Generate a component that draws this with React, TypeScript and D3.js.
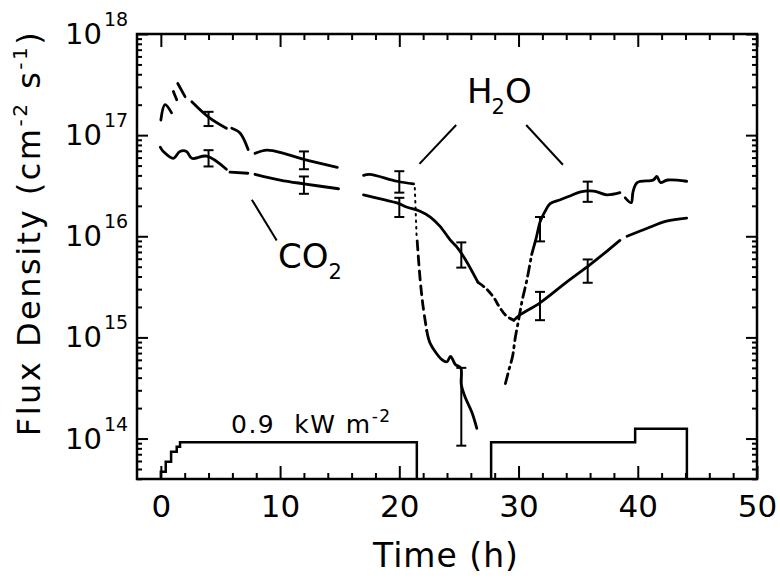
import React, { useEffect, useRef } from 'react';
import * as d3 from 'd3';

type Pt = [number, number];

// time (h) vs flux density (cm^-2 s^-1)
// H2O
const h2oA: Pt[] = [[0.0, 1.41e17], [0.35, 2.0e17], [0.9, 1.66e17]];
const h2oB: Pt[] = [[1.05, 2.7e17], [1.33, 2.24e17]];
const h2oC: Pt[] = [[1.42, 3.24e17], [2.03, 2.4e17]];
const h2oD: Pt[] = [[2.6, 2.14e17], [4.0, 1.51e17], [5.5, 1.17e17]];
const h2oE: Pt[] = [[5.95, 1.17e17], [6.64, 1.05e17], [7.32, 7.2e16]];
const h2oF: Pt[] = [[7.9, 6.6e16], [8.9, 7.1e16], [10.3, 6.6e16], [12.0, 5.75e16], [14.8, 4.8e16]];
const h2oG: Pt[] = [[17.0, 4.0e16], [17.5, 4.1e16], [19.8, 3.5e16], [21.2, 3.3e16]];
const h2oDropDot: Pt[] = [[21.3, 3.0e16], [21.45, 1.0e16]];
const h2oDropDash: Pt[] = [[21.5, 9.0e15], [21.75, 3.7e15], [22.0, 2.0e15], [22.3, 1.17e15]];
const h2oDropSolid: Pt[] = [[22.3, 1.17e15], [22.6, 8.7e14], [23.6, 6.0e14], [24.0, 5.75e14], [24.3, 6.5e14],
  [24.7, 5.4e14], [25.15, 5.0e14], [25.2, 3.4e14], [25.5, 2.6e14], [26.1, 1.8e14], [26.5, 1.26e14]];
const h2oRiseDash: Pt[] = [[28.9, 3.5e14], [29.2, 4.8e14], [29.5, 6.5e14], [29.7, 9.5e14], [30.0, 1.48e15],
  [30.3, 2.3e15], [30.7, 3.7e15], [31.1, 6.6e15]];
const h2oRise: Pt[] = [[31.1, 6.6e15], [31.5, 9.8e15], [31.8, 1.38e16], [32.2, 1.74e16], [32.65, 2.1e16],
  [33.5, 2.3e16], [34.3, 2.5e16], [35.2, 2.75e16], [36.3, 2.8e16], [37.4, 2.57e16], [38.5, 2.7e16]];
const h2oEnd: Pt[] = [[38.95, 2.4e16], [39.45, 2.15e16], [39.6, 2.75e16], [39.95, 3.4e16], [41.3, 3.6e16],
  [41.6, 3.9e16], [41.9, 3.4e16], [42.5, 3.6e16], [44.1, 3.5e16]];

// CO2
const co2A: Pt[] = [[-0.05, 7.6e16], [0.2, 6.9e16], [1.05, 5.9e16], [1.6, 6.9e16], [2.15, 6.9e16],
  [2.6, 5.9e16], [3.85, 6.2e16], [5.5, 4.6e16]];
const co2B: Pt[] = [[5.8, 4.3e16], [7.3, 4.2e16]];
const co2C: Pt[] = [[7.9, 4.1e16], [10.0, 3.6e16], [12.0, 3.3e16], [14.9, 2.95e16]];
const co2D: Pt[] = [[17.0, 2.57e16], [18.7, 2.3e16], [19.8, 2.14e16], [20.6, 1.95e16], [21.7, 1.78e16],
  [22.6, 1.55e16], [23.4, 1.26e16], [24.3, 9.1e15], [24.8, 7.9e15], [25.5, 6.0e15], [26.6, 3.5e15]];
const co2MinDash: Pt[] = [[26.6, 3.5e15], [27.2, 3.1e15], [27.9, 2.5e15], [28.4, 2.0e15], [29.0, 1.62e15], [29.6, 1.48e15]];
const co2Rise: Pt[] = [[29.6, 1.48e15], [30.1, 1.66e15], [31.8, 2.2e15], [34.0, 3.5e15], [36.0, 5.25e15],
  [37.4, 7.1e15], [38.5, 9.1e15]];
const co2End: Pt[] = [[39.1, 1.0e16], [40.8, 1.2e16], [42.4, 1.41e16], [44.1, 1.51e16]];

// error bars [t, low, high]
const h2oErr: [number, number, number][] = [[4, 1.23e17, 1.7e17], [12, 4.6e16, 6.9e16], [20, 2.7e16, 4.4e16],
  [25.2, 8.5e13, 5.0e14], [31.8, 8.9e15, 1.55e16], [35.8, 2.19e16, 3.47e16]];
const co2Err: [number, number, number][] = [[4, 4.9e16, 7.1e16], [12, 2.63e16, 3.9e16], [20, 1.55e16, 2.4e16],
  [25.2, 4.9e15, 8.7e15], [31.8, 1.48e15, 2.82e15], [35.8, 3.47e15, 5.9e15]];

// heating (irradiation) steps, drawn on the flux axis
const heat1T = [0, 0, 0.41, 0.86, 1.33, 1.61, 21.47];
const heat1V = [3.98e13, 4.7e13, 5.9e13, 7.4e13, 8.3e13, 9.2e13, 3.98e13];
const heat2T = [27.7, 27.7, 39.78, 44.12];
const heat2V = [3.98e13, 9.2e13, 1.25e14, 3.98e13];

const xMajor = [0, 10, 20, 30, 40, 50];
const xMinor = d3.range(0, 50, 2).filter(v => v % 10 !== 0);
const yDecades = [14, 15, 16, 17, 18];

const FONT = 'DejaVu Sans';

export default function App() {
  const ref = useRef<SVGSVGElement>(null);

  useEffect(() => {
    document.body.style.margin = '0';
    const svg = d3.select(ref.current);
    svg.selectAll('*').remove();

    const x = d3.scaleLinear().domain([-2, 50]).range([137, 757]);
    const y = d3.scaleLog().domain([Math.pow(10, 13.6), 1e18]).range([479, 34]);

    const yMinor = y.ticks().filter(v => Math.abs(Math.log10(v) - Math.round(Math.log10(v))) > 1e-6);
    const yMajor = yDecades.map(e => Math.pow(10, e));

    const tidy = (g: any) => {
      g.select('.domain').remove();
      g.selectAll('line').attr('stroke', '#000').attr('stroke-width', 2);
    };

    // ticks
    svg.append('g').attr('transform', 'translate(0,479)')
      .call(d3.axisBottom(x).tickValues(xMinor).tickSize(-6).tickFormat(() => '')).call(tidy);
    const xb = svg.append('g').attr('transform', 'translate(0,479)')
      .call(d3.axisBottom(x).tickValues(xMajor).tickSize(-13).tickPadding(16).tickFormat(d3.format('d')))
      .call(tidy);
    xb.attr('font-family', FONT).attr('font-size', 31);
    xb.selectAll('text').attr('fill', '#000');
    svg.append('g').attr('transform', 'translate(0,34)')
      .call(d3.axisTop(x).tickValues(xMinor).tickSize(-6).tickFormat(() => '')).call(tidy);
    svg.append('g').attr('transform', 'translate(0,34)')
      .call(d3.axisTop(x).tickValues(xMajor).tickSize(-13).tickFormat(() => '')).call(tidy);

    svg.append('g').attr('transform', 'translate(137,0)')
      .call(d3.axisLeft(y).tickValues(yMinor).tickSize(-5).tickFormat(() => '')).call(tidy);
    svg.append('g').attr('transform', 'translate(137,0)')
      .call(d3.axisLeft(y).tickValues(yMajor).tickSize(-11).tickFormat(() => '')).call(tidy);
    svg.append('g').attr('transform', 'translate(757,0)')
      .call(d3.axisRight(y).tickValues(yMinor).tickSize(-5).tickFormat(() => '')).call(tidy);
    svg.append('g').attr('transform', 'translate(757,0)')
      .call(d3.axisRight(y).tickValues(yMajor).tickSize(-11).tickFormat(() => '')).call(tidy);

    // frame
    svg.append('rect').attr('x', 137).attr('y', 34).attr('width', 620).attr('height', 445)
      .attr('fill', 'none').attr('stroke', '#000').attr('stroke-width', 2.5);

    // y labels 10^n
    const yl = svg.append('g').attr('font-family', FONT).attr('fill', '#000');
    yDecades.forEach(e => {
      const py = y(Math.pow(10, e));
      yl.append('text').attr('x', 102).attr('y', py + 10).attr('text-anchor', 'end')
        .attr('font-size', 29).text('10');
      yl.append('text').attr('x', 104).attr('y', py - 8).attr('font-size', 19).text(String(e));
    });

    // axis titles
    svg.append('text').attr('x', 446).attr('y', 567).attr('text-anchor', 'middle')
      .attr('font-family', FONT).attr('font-size', 33).attr('letter-spacing', 1).text('Time (h)');
    const yt = svg.append('text').attr('transform', 'translate(40,233) rotate(-90)')
      .attr('text-anchor', 'middle').attr('font-family', FONT).attr('font-size', 32)
      .attr('letter-spacing', 2.5);
    yt.append('tspan').text('Flux Density (cm');
    yt.append('tspan').attr('font-size', 20).attr('dy', -13).text('-2');
    yt.append('tspan').attr('dy', 13).text(' s');
    yt.append('tspan').attr('font-size', 20).attr('dy', -13).text('-1');
    yt.append('tspan').attr('dy', 13).text(')');

    // data lines
    const line = d3.line<Pt>().x(d => x(d[0])).y(d => y(d[1])).curve(d3.curveCatmullRom.alpha(0.5));
    const segs: [Pt[], string | null][] = [
      [h2oA, null], [h2oB, null], [h2oC, null], [h2oD, null], [h2oE, null], [h2oF, null], [h2oG, null],
      [h2oDropDot, '1.5 5'], [h2oDropDash, '9 6'], [h2oDropSolid, null], [h2oRiseDash, '10 5 2 5'],
      [h2oRise, null], [h2oEnd, null],
      [co2A, null], [co2B, null], [co2C, null], [co2D, null], [co2MinDash, '7 5'], [co2Rise, null], [co2End, null],
    ];
    const lg = svg.append('g').attr('fill', 'none').attr('stroke', '#000')
      .attr('stroke-linecap', 'round').attr('stroke-linejoin', 'round');
    segs.forEach(([pts, dash]) => {
      const p = lg.append('path').attr('d', line(pts)).attr('stroke-width', dash && dash.startsWith('1.5') ? 2 : 2.8);
      if (dash) p.attr('stroke-dasharray', dash);
    });

    // error bars
    const eg = svg.append('g').attr('stroke', '#000').attr('stroke-width', 2);
    [...h2oErr, ...co2Err].forEach(([t, lo, hi]) => {
      const px = x(t);
      eg.append('line').attr('x1', px).attr('x2', px).attr('y1', y(lo)).attr('y2', y(hi));
      eg.append('line').attr('x1', px - 5).attr('x2', px + 5).attr('y1', y(lo)).attr('y2', y(lo));
      eg.append('line').attr('x1', px - 5).attr('x2', px + 5).attr('y1', y(hi)).attr('y2', y(hi));
    });

    // heating steps
    const step = d3.line<number>().x(d => x(d)).curve(d3.curveStepAfter);
    const hg = svg.append('g').attr('fill', 'none').attr('stroke', '#000').attr('stroke-width', 2.5);
    hg.append('path').attr('d', step.y((_, i) => y(heat1V[i]))(heat1T));
    hg.append('path').attr('d', step.y((_, i) => y(heat2V[i]))(heat2T));

    // annotations
    const ag = svg.append('g').attr('stroke', '#000').attr('stroke-width', 2);
    ag.append('line').attr('x1', x(7.63)).attr('y1', y(2.3e16)).attr('x2', x(9.72)).attr('y2', y(9.1e15));
    ag.append('line').attr('x1', x(21.69)).attr('y1', y(5.2e16)).attr('x2', x(24.77)).attr('y2', y(1.26e17));
    ag.append('line').attr('x1', x(30.64)).attr('y1', y(1.26e17)).attr('x2', x(33.72)).attr('y2', y(5.1e16));

    const tg = svg.append('g').attr('font-family', FONT).attr('fill', '#000');
    const h2o = tg.append('text').attr('x', 467).attr('y', 103).attr('font-size', 34);
    h2o.append('tspan').text('H');
    h2o.append('tspan').attr('font-size', 21).attr('dy', 11).attr('dx', -1).text('2');
    h2o.append('tspan').attr('dy', -11).text('O');
    const co2 = tg.append('text').attr('x', 278).attr('y', 268).attr('font-size', 34);
    co2.append('tspan').text('CO');
    co2.append('tspan').attr('font-size', 21).attr('dy', 11).text('2');
    const kw = tg.append('text').attr('x', 231).attr('y', 433).attr('font-size', 25).attr('letter-spacing', 1.5)
      .attr('xml:space', 'preserve');
    kw.append('tspan').text('0.9  kW m');
    kw.append('tspan').attr('font-size', 17).attr('dy', -11).text('-2');
  }, []);

  return <svg ref={ref} width={780} height={580} style={{ display: 'block', background: '#fff' }} />;
}
